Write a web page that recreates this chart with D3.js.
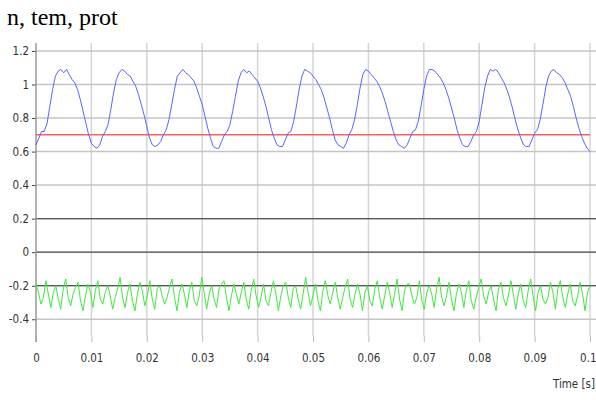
<!DOCTYPE html>
<html><head><meta charset="utf-8">
<script src="https://cdn.jsdelivr.net/npm/d3@7"></script>
<style>
html,body{margin:0;padding:0;background:#fff;}
svg{display:block;}
.tick text{font-family:"DejaVu Sans Condensed","DejaVu Sans",sans-serif;font-size:11.5px;fill:#333;}
</style>
</head><body>
<svg id="chart" width="596" height="403"></svg>
<script>
const title = "n, tem, prot";
const xLabel = "Time [s]";
const xTicks = [0,0.01,0.02,0.03,0.04,0.05,0.06,0.07,0.08,0.09,0.1];
const xTickLabels = ["0","0.01","0.02","0.03","0.04","0.05","0.06","0.07","0.08","0.09","0.1"];
const yTicks = [-0.4,-0.2,0,0.2,0.4,0.6,0.8,1,1.2];
const yTickLabels = ["-0.4","-0.2","0","0.2","0.4","0.6","0.8","1","1.2"];
const tStart = 0, tEnd = 0.1;

// n (blue), sampled uniformly over 0..0.1 s
const nSeries = [
0.64,0.68,0.72,0.72,0.77,0.87,0.97,1.05,1.08,1.09,1.07,1.09,1.06,1.03,1.01,0.97,0.91,0.84,0.77,0.70,0.65,0.63,
0.62,0.64,0.69,0.72,0.76,0.85,0.95,1.03,1.07,1.09,1.08,1.06,1.05,1.02,0.99,0.94,0.88,0.82,0.75,0.68,0.64,0.63,
0.64,0.66,0.70,0.73,0.79,0.88,0.97,1.05,1.07,1.09,1.07,1.06,1.04,1.02,0.98,0.93,0.88,0.81,0.74,0.68,0.63,0.62,
0.62,0.66,0.70,0.72,0.76,0.84,0.93,1.02,1.07,1.09,1.07,1.08,1.06,1.04,1.02,0.98,0.93,0.87,0.80,0.73,0.68,0.64,0.63,
0.63,0.67,0.71,0.72,0.78,0.87,0.97,1.05,1.09,1.08,1.07,1.05,1.03,1.00,0.97,0.92,0.86,0.80,0.73,0.67,0.64,0.63,
0.62,0.65,0.70,0.73,0.79,0.88,0.98,1.06,1.09,1.08,1.06,1.04,1.02,0.99,0.95,0.90,0.84,0.78,0.72,0.67,0.64,0.63,
0.62,0.64,0.68,0.72,0.73,0.78,0.87,0.97,1.05,1.09,1.09,1.08,1.06,1.04,1.01,0.97,0.92,0.86,0.80,0.73,0.68,0.64,0.63,
0.63,0.66,0.70,0.72,0.78,0.88,0.98,1.05,1.09,1.08,1.09,1.07,1.04,1.01,0.97,0.92,0.86,0.79,0.73,0.68,0.64,0.63,
0.63,0.67,0.71,0.73,0.79,0.88,0.98,1.05,1.08,1.09,1.07,1.06,1.04,1.01,0.97,0.93,0.87,0.80,0.74,0.69,0.65,0.62,
0.60
];

// tem (red), constant reference
const temSeries = [0.7, 0.7];

// prot (green), sampled uniformly over 0..0.1 s
const protSeries = [
-0.19,-0.24,-0.31,-0.27, -0.17,-0.25,-0.33,-0.24, -0.20,-0.28,-0.34,-0.22, -0.16,-0.27,-0.32,-0.25,-0.21,
-0.18,-0.29,-0.35,-0.26, -0.19,-0.24,-0.33,-0.23, -0.17,-0.28,-0.31,-0.24, -0.20,-0.26,-0.34,-0.27,-0.22,
-0.15,-0.27,-0.33,-0.24, -0.19,-0.29,-0.35,-0.25, -0.18,-0.23,-0.32,-0.26, -0.17,-0.28,-0.34,-0.22,
-0.20,-0.26,-0.31,-0.27,-0.21, -0.16,-0.27,-0.35,-0.24, -0.19,-0.25,-0.33,-0.23, -0.18,-0.29,-0.32,-0.26,
-0.15,-0.24,-0.34,-0.25, -0.20,-0.28,-0.33,-0.22,-0.19, -0.17,-0.27,-0.35,-0.26, -0.19,-0.25,-0.31,-0.24,
-0.18,-0.28,-0.34,-0.23, -0.16,-0.26,-0.33,-0.27, -0.19,-0.29,-0.32,-0.24, -0.17,-0.25,-0.35,-0.26,-0.20,
-0.18,-0.27,-0.33,-0.22, -0.20,-0.28,-0.34,-0.25, -0.15,-0.24,-0.32,-0.26, -0.19,-0.29,-0.35,-0.23,
-0.17,-0.26,-0.31,-0.24, -0.18,-0.27,-0.34,-0.27,-0.21, -0.16,-0.28,-0.33,-0.25, -0.19,-0.25,-0.35,-0.24,
-0.20,-0.29,-0.32,-0.22, -0.17,-0.27,-0.34,-0.26, -0.18,-0.24,-0.33,-0.25, -0.16,-0.28,-0.35,-0.23,-0.19,
-0.19,-0.26,-0.31,-0.27, -0.17,-0.29,-0.34,-0.24, -0.20,-0.25,-0.33,-0.22, -0.15,-0.27,-0.32,-0.26,
-0.18,-0.28,-0.35,-0.25, -0.19,-0.24,-0.33,-0.23, -0.17,-0.29,-0.34,-0.27,-0.21, -0.16,-0.26,-0.31,-0.24,
-0.20,-0.28,-0.35,-0.22, -0.18,-0.27,-0.32,-0.26, -0.17,-0.25,-0.34,-0.25, -0.19,-0.29,-0.33,-0.23,
-0.16,-0.26,-0.35,-0.24, -0.20,-0.28,-0.31,-0.27, -0.18,-0.24,-0.34,-0.22, -0.17,-0.27,-0.33,-0.25,
-0.19,-0.29,-0.32,-0.26, -0.18,-0.25,-0.35,-0.24, -0.20
];

// dark reference lines
const refLevels = [0.2, 0, -0.2];

const svg = d3.select("#chart");
const x = d3.scaleLinear().domain([tStart, tEnd]).range([36, 590]);
const y = d3.scaleLinear().domain([-0.5, 1.2]).range([336, 51]);

// title
svg.append("text").attr("x", 7).attr("y", 25)
  .attr("font-family", "'Liberation Serif','Times New Roman',serif")
  .attr("font-size", 24).attr("fill", "#000").text(title);

// vertical gridlines
svg.append("g").selectAll("line").data(xTicks.slice(1)).join("line")
  .attr("x1", d => x(d)).attr("x2", d => x(d))
  .attr("y1", 43).attr("y2", 336)
  .attr("stroke", "#d4d4d4").attr("stroke-width", 1.5);

// horizontal gridlines
svg.append("g").selectAll("line").data(yTicks).join("line")
  .attr("x1", 36).attr("x2", 596)
  .attr("y1", d => y(d)).attr("y2", d => y(d))
  .attr("stroke", "#c4c4c4").attr("stroke-width", 1.5);

// dark reference lines
svg.append("g").selectAll("line").data(refLevels).join("line")
  .attr("x1", 36).attr("x2", 596)
  .attr("y1", d => y(d)).attr("y2", d => y(d))
  .attr("stroke", "#555").attr("stroke-width", 1.3);

// x axis (ticks + labels only)
const xAxis = d3.axisBottom(x).tickValues(xTicks)
  .tickFormat((d, i) => xTickLabels[i]).tickSize(6).tickPadding(14);
const gx = svg.append("g").attr("transform", "translate(0,336)").call(xAxis);
gx.select(".domain").remove();
gx.selectAll(".tick line").attr("stroke", "#bbb");
gx.selectAll(".tick text").attr("dy", "0.5em");
gx.selectAll(".tick:last-of-type text").attr("text-anchor", "end").attr("dx", 6);

// y axis
const yAxis = d3.axisLeft(y).tickValues(yTicks)
  .tickFormat((d, i) => yTickLabels[i]).tickSize(4).tickPadding(3);
const gy = svg.append("g").attr("transform", "translate(36,0)").call(yAxis);
gy.select(".domain").remove();
gy.selectAll(".tick line").attr("stroke", "#444");
svg.append("line").attr("x1", 36).attr("x2", 36).attr("y1", 43).attr("y2", 342)
  .attr("stroke", "#999").attr("stroke-width", 1.5);

// x label
svg.append("text").attr("x", 595).attr("y", 388).attr("text-anchor", "end")
  .attr("font-family", "'DejaVu Sans Condensed','DejaVu Sans',sans-serif")
  .attr("font-size", 11.5).attr("fill", "#333").text(xLabel);

const line = d3.line().x(d => x(d[0])).y(d => y(d[1]));
function toPts(arr){ const n = arr.length; return arr.map((v, i) => [tStart + (tEnd - tStart) * i / (n - 1), v]); }

svg.append("path").datum(toPts(temSeries)).attr("d", line)
  .attr("fill", "none").attr("stroke", "#ff5c5c").attr("stroke-width", 1.6);
svg.append("path").datum(toPts(protSeries)).attr("d", line)
  .attr("fill", "none").attr("stroke", "#3fe83f").attr("stroke-width", 1);
svg.append("path").datum(toPts(nSeries)).attr("d", line)
  .attr("fill", "none").attr("stroke", "#5566ff").attr("stroke-width", 1);
</script>
</body></html>
